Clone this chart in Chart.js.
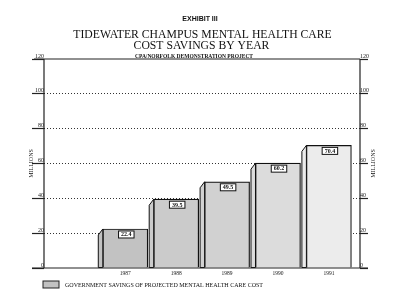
<!DOCTYPE html>
<html>
<head>
<meta charset="utf-8">
<script src="https://cdn.jsdelivr.net/npm/chart.js@4"></script>
<style>
  body { margin: 0; background: #fff; }
  canvas { display: block; }
</style>
</head>
<body>
<canvas id="grafico" width="400" height="305"></canvas>
<script>
const years = [1987, 1988, 1989, 1990, 1991]
const savings = [22.4, 39.5, 49.5, 60.2, 70.4]
const barColors = ['#c2c2c2', '#cbcbcb', '#d1d1d1', '#dcdcdc', '#ececec']
const yTicks = [0, 20, 40, 60, 80, 100, 120]

const serif = '"Liberation Serif", "Times New Roman", serif'

// titulos, caras laterales, etiquetas y leyenda
const decoracion = {
    id: 'decoracion',
    afterDatasetsDraw(chart) {
        const {ctx, chartArea: {top, bottom, left, right}} = chart
        const meta = chart.getDatasetMeta(0)

        ctx.save()
        // cara lateral de cada barra
        meta.data.forEach((bar, i) => {
            const l = bar.x - bar.width / 2
            ctx.beginPath()
            ctx.moveTo(l, bar.base)
            ctx.lineTo(l - 4.5, bar.base)
            ctx.lineTo(l - 4.5, bar.y + 6)
            ctx.lineTo(l, bar.y)
            ctx.closePath()
            ctx.fillStyle = barColors[i]
            ctx.fill()
            ctx.lineWidth = 1
            ctx.strokeStyle = '#111'
            ctx.stroke()
        })

        // cajitas con el valor
        ctx.font = 'bold 6px ' + serif
        ctx.textAlign = 'center'
        ctx.textBaseline = 'middle'
        meta.data.forEach((bar, i) => {
            const txt = savings[i].toFixed(1)
            const w = ctx.measureText(txt).width + 5
            const y0 = bar.y + 2
            ctx.fillStyle = '#fff'
            ctx.fillRect(bar.x - w / 2 + 1, y0, w, 7)
            ctx.strokeStyle = '#111'
            ctx.lineWidth = 1
            ctx.strokeRect(bar.x - w / 2 + 1, y0, w, 7)
            ctx.fillStyle = '#111'
            ctx.fillText(txt, bar.x + 1, y0 + 3.8)
        })

        // marco
        ctx.strokeStyle = '#222'
        ctx.lineWidth = 1.2
        ctx.beginPath()
        ctx.moveTo(left - 10, top); ctx.lineTo(right, top)
        ctx.moveTo(left, top); ctx.lineTo(left, bottom)
        ctx.moveTo(right, top); ctx.lineTo(right, bottom)
        ctx.moveTo(left - 12, bottom); ctx.lineTo(right + 8, bottom)
        ctx.stroke()
        ctx.restore()
    },
    afterDraw(chart) {
        const {ctx, chartArea: {top, bottom}} = chart
        ctx.save()
        ctx.fillStyle = '#111'
        ctx.textAlign = 'center'
        ctx.textBaseline = 'alphabetic'

        ctx.font = 'bold 7px "Liberation Sans", Arial, sans-serif'
        ctx.fillText('EXHIBIT III', 200, 21)

        ctx.font = '11.7px ' + serif
        ctx.fillText('TIDEWATER CHAMPUS MENTAL HEALTH CARE', 202.5, 37.5)
        ctx.fillText('COST SAVINGS BY YEAR', 201.5, 48.7)

        ctx.font = 'bold 5.5px ' + serif
        ctx.fillText('CPA/NORFOLK DEMONSTRATION PROJECT', 194, 57.5)

        // titulos de los ejes
        ctx.font = '6px ' + serif
        const mid = (top + bottom) / 2
        ;[31, 373].forEach(x => {
            ctx.save()
            ctx.translate(x, mid)
            ctx.rotate(-Math.PI / 2)
            ctx.textBaseline = 'middle'
            ctx.fillText('MILLIONS', 0, 0)
            ctx.restore()
        })

        // leyenda
        ctx.fillStyle = barColors[0]
        ctx.fillRect(43, 281, 16, 7)
        ctx.strokeStyle = '#222'
        ctx.lineWidth = 1
        ctx.strokeRect(43, 281, 16, 7)
        ctx.fillStyle = '#111'
        ctx.textAlign = 'left'
        ctx.font = '6px ' + serif
        ctx.fillText('GOVERNMENT SAVINGS OF PROJECTED MENTAL HEALTH CARE COST', 65, 287)
        ctx.restore()
    }
}

const data = {
    datasets: [{
        label: 'GOVERNMENT SAVINGS OF PROJECTED MENTAL HEALTH CARE COST',
        data: years.map((y, i) => ({x: y, y: savings[i]})),
        backgroundColor: barColors,
        borderColor: '#111',
        borderWidth: 1.2,
        borderSkipped: 'bottom',
        barThickness: 45
    }]
}

const ejeY = (lado, largo, pad) => ({
    position: lado,
    min: 0,
    max: 120,
    afterBuildTicks: (scale) => { scale.ticks = yTicks.map(v => ({value: v})) },
    afterFit: (scale) => { scale.width = lado === 'left' ? 44 : 40 },
    border: {display: false, dash: [1, 2]},
    grid: {
        drawOnChartArea: lado === 'left',
        color: (c) => (c.tick && (c.tick.value === 0 || c.tick.value === 120)) ? 'rgba(0,0,0,0)' : '#333',
        borderDash: [1, 2],
        tickColor: '#222',
        tickLength: largo,
        tickWidth: 1.2
    },
    ticks: {
        color: '#222',
        font: {family: serif, size: 6},
        padding: pad,
        labelOffset: -3
    }
})

const config = {
    type: 'bar',
    data,
    options: {
        responsive: false,
        animation: false,
        devicePixelRatio: 1,
        layout: {padding: {top: 59, left: 0, right: 0, bottom: 0}},
        plugins: {
            legend: {display: false},
            title: {display: false},
            tooltip: {enabled: false}
        },
        scales: {
            x: {
                type: 'linear',
                offset: false,
                min: 1985.403,
                max: 1991.611,
                afterBuildTicks: (scale) => { scale.ticks = years.map(v => ({value: v})) },
                afterFit: (scale) => { scale.height = 37 },
                border: {display: false},
                grid: {display: false, drawTicks: false, offset: false, tickLength: 0},
                ticks: {
                    color: '#222',
                    font: {family: serif, size: 5.5},
                    padding: 2,
                    maxRotation: 0,
                    callback: (v) => String(v)
                }
            },
            y: ejeY('left', 12, -12),
            y2: ejeY('right', 8, -8)
        }
    },
    plugins: [decoracion]
}

new Chart(document.getElementById('grafico'), config)
</script>
</body>
</html>
